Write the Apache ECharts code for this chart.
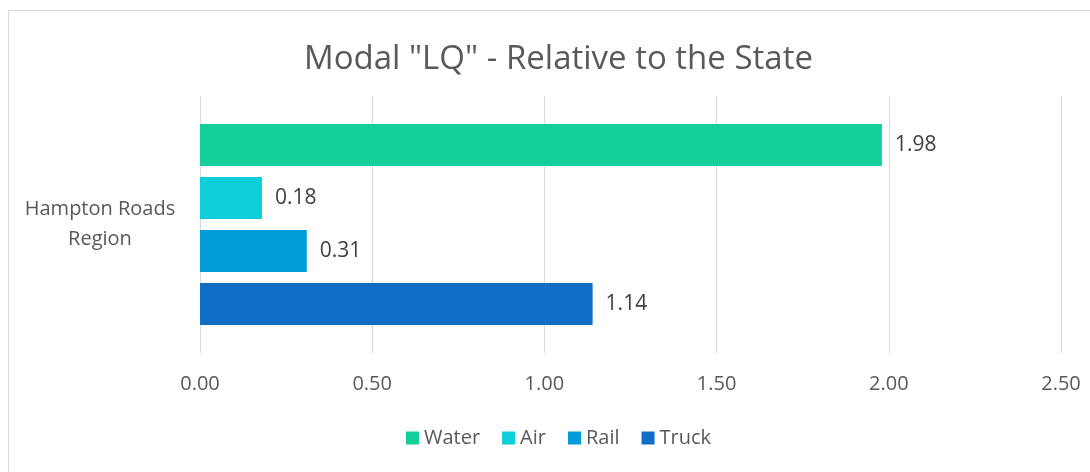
<!DOCTYPE html>
<html>
<head>
<meta charset="utf-8">
<script src="https://cdn.jsdelivr.net/npm/echarts@6/dist/echarts.min.js"></script>
<style>
  html, body { margin: 0; padding: 0; background: #fff; }
  #frame { position: absolute; left: 8px; top: 10px; width: 1100px; height: 480px; border: 1px solid #d9d9d9; box-sizing: border-box; }
  #chart { position: absolute; left: 0; top: 0; width: 1090px; height: 472px; }
</style>
</head>
<body>
<div id="frame"></div>
<div id="chart"></div>
<script>
// Location quotients by freight mode
const categories = ['Hampton Roads\nRegion'];
const seriesNames = ['Water', 'Air', 'Rail', 'Truck'];
const water = [1.98];
const air = [0.18];
const rail = [0.31];
const truck = [1.14];
const xTicks = [0, 0.5, 1.0, 1.5, 2.0, 2.5];

const colors = ['#14CF99', '#0DCFD9', '#029DD8', '#106EC6'];
const values = [water, air, rail, truck];
const font = '"Open Sans", "Noto Sans", sans-serif';

const chart = echarts.init(document.getElementById('chart'));
chart.setOption({
  animation: false,
  title: {
    text: 'Modal "LQ" - Relative to the State',
    left: 299,
    top: 38,
    textStyle: { fontFamily: font, fontSize: 33, fontWeight: 'normal', color: '#595959' }
  },
  legend: {
    data: seriesNames,
    bottom: 19,
    left: 401,
    icon: 'rect',
    itemWidth: 13,
    itemHeight: 13,
    itemGap: 22,
    textStyle: { fontFamily: font, fontSize: 20, color: '#595959' }
  },
  grid: { left: 200, right: 29, top: 96, bottom: 119, containLabel: false },
  xAxis: {
    type: 'value',
    min: xTicks[0],
    max: xTicks[xTicks.length - 1],
    interval: 0.5,
    axisLine: { show: false },
    axisTick: { show: false },
    splitLine: { lineStyle: { color: '#d9d9d9', width: 1 } },
    axisLabel: {
      margin: 21,
      fontFamily: font, fontSize: 20, color: '#595959',
      formatter: v => v.toFixed(2)
    }
  },
  yAxis: {
    type: 'category',
    data: categories,
    inverse: true,
    axisLine: { show: false },
    axisTick: { show: false },
    axisLabel: {
      margin: 100,
      align: 'center',
      fontFamily: font, fontSize: 20, color: '#595959', lineHeight: 30
    }
  },
  series: seriesNames.map((name, i) => ({
    name,
    type: 'bar',
    data: values[i],
    itemStyle: { color: colors[i] },
    barCategoryGap: '21.8%',
    barGap: '26%',
    label: {
      show: true,
      position: 'right',
      distance: 13,
      fontFamily: font, fontSize: 21, color: '#404040',
      formatter: p => p.value.toFixed(2)
    }
  }))
});
</script>
</body>
</html>
